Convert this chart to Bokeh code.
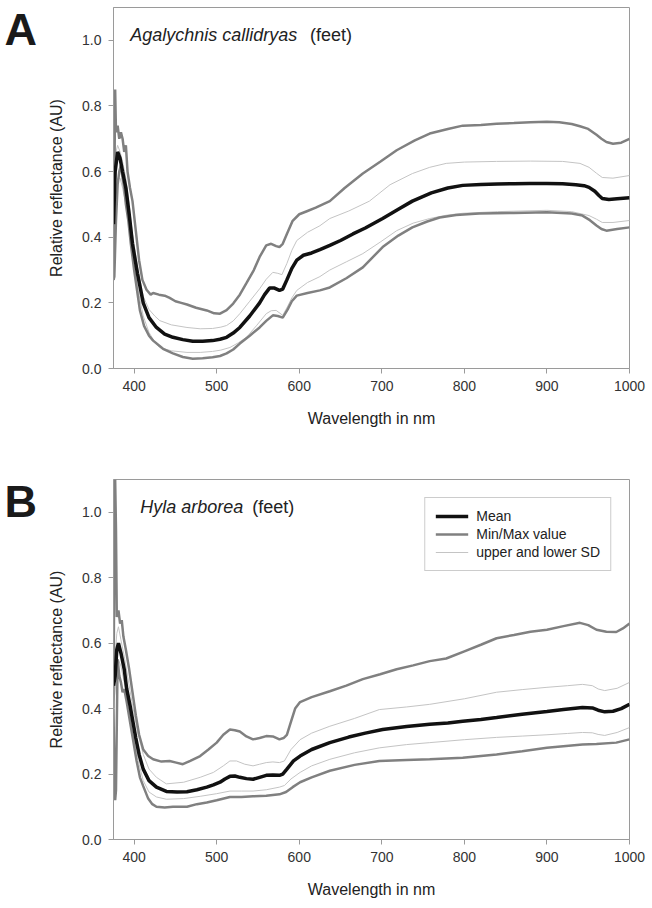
from bokeh.plotting import figure
from bokeh.layouts import column, row
from bokeh.models import PrintfTickFormatter, FixedTicker, Legend, Label
from bokeh.core.properties import value
from bokeh.embed import file_html
from bokeh.resources import INLINE

# ---------------- data: panel A (Agalychnis callidryas) ----------------
a_mean_wl = [375,377,380,383,386,390,394,398,404,411,418,427,437,447,459,471,483,495,504,512,520,528,540,552,558,564,570,576,580,585,591,597,605,615,625,637,650,665,680,701,720,737,760,780,798,820,840,860,879,900,919,935,945,951,958,963,967,975,985,1000]
a_mean = [0.44,0.60,0.66,0.64,0.60,0.55,0.47,0.38,0.29,0.20,0.155,0.125,0.105,0.095,0.088,0.083,0.083,0.085,0.089,0.095,0.108,0.125,0.16,0.20,0.225,0.245,0.245,0.238,0.242,0.27,0.305,0.33,0.345,0.352,0.362,0.375,0.39,0.41,0.428,0.457,0.485,0.51,0.535,0.55,0.558,0.561,0.562,0.563,0.564,0.564,0.563,0.56,0.557,0.552,0.54,0.527,0.518,0.515,0.517,0.52]

a_max_wl = [375,376,377,378,380,382,384,386,388,390,392,395,398,402,406,410,415,420,423,430,437,443,450,457,464,475,488,497,504,512,520,528,536,545,552,560,566,572,576,580,585,592,600,610,620,637,655,677,698,718,740,758,780,798,820,839,860,880,900,915,930,940,950,960,966,972,980,990,1000]
a_max = [0.27,0.55,0.85,0.72,0.74,0.70,0.72,0.70,0.66,0.68,0.60,0.55,0.51,0.42,0.33,0.27,0.24,0.225,0.23,0.225,0.222,0.215,0.205,0.20,0.195,0.185,0.177,0.168,0.167,0.178,0.198,0.225,0.26,0.30,0.34,0.375,0.38,0.373,0.37,0.38,0.41,0.45,0.47,0.48,0.49,0.51,0.55,0.594,0.63,0.665,0.695,0.716,0.73,0.74,0.742,0.746,0.748,0.75,0.752,0.75,0.745,0.738,0.73,0.712,0.70,0.69,0.685,0.688,0.70]

a_usd_wl = [375,378,380,383,386,390,394,398,404,411,418,425,431,445,464,480,495,505,512,520,528,540,552,560,568,574,579,585,591,597,610,625,637,660,685,710,737,758,778,800,839,880,919,940,951,960,967,980,1000]
a_usd = [0.50,0.66,0.68,0.66,0.63,0.58,0.50,0.41,0.31,0.22,0.18,0.16,0.146,0.133,0.125,0.121,0.122,0.126,0.131,0.145,0.167,0.205,0.243,0.272,0.293,0.29,0.286,0.32,0.36,0.39,0.415,0.435,0.457,0.48,0.51,0.56,0.594,0.613,0.625,0.629,0.631,0.632,0.631,0.625,0.613,0.595,0.582,0.58,0.588]

a_lsd_wl = [375,378,380,383,386,390,394,398,404,411,418,425,431,445,464,480,495,505,516,526,536,548,560,566,572,580,586,591,597,610,625,637,657,677,698,718,738,758,778,798,840,900,930,951,960,967,980,1000]
a_lsd = [0.38,0.52,0.58,0.58,0.55,0.50,0.43,0.35,0.25,0.16,0.11,0.08,0.064,0.054,0.049,0.049,0.052,0.056,0.064,0.078,0.095,0.13,0.167,0.176,0.177,0.162,0.19,0.215,0.238,0.262,0.28,0.30,0.325,0.35,0.385,0.42,0.443,0.457,0.467,0.473,0.478,0.482,0.478,0.466,0.455,0.445,0.445,0.451]

a_min_wl = [375,376,378,380,382,384,386,388,390,393,396,400,404,407,412,418,423,435,447,459,471,483,495,504,512,520,528,540,552,560,568,574,580,586,591,597,610,625,637,657,677,701,720,737,755,770,790,818,860,900,930,943,952,960,966,972,985,1000]
a_min = [0.27,0.28,0.45,0.56,0.60,0.62,0.58,0.55,0.50,0.45,0.38,0.30,0.23,0.177,0.13,0.10,0.085,0.06,0.046,0.035,0.03,0.031,0.034,0.038,0.046,0.058,0.076,0.10,0.125,0.145,0.162,0.16,0.155,0.18,0.205,0.222,0.23,0.238,0.247,0.275,0.308,0.37,0.405,0.43,0.448,0.46,0.468,0.472,0.474,0.476,0.472,0.466,0.452,0.436,0.425,0.42,0.425,0.43]

# ---------------- data: panel B (Hyla arborea) ----------------
b_mean_wl = [375,377,379,381,384,388,391,395,398,402,406,411,418,427,439,452,464,476,488,496,504,510,516,522,528,536,544,552,560,568,576,580,585,593,601,615,637,660,680,701,730,758,780,798,820,839,870,900,920,943,955,962,970,980,990,1000]
b_mean = [0.47,0.50,0.58,0.60,0.57,0.52,0.46,0.41,0.367,0.31,0.26,0.215,0.18,0.16,0.147,0.145,0.146,0.152,0.16,0.167,0.175,0.185,0.193,0.194,0.19,0.186,0.184,0.19,0.196,0.197,0.196,0.2,0.215,0.24,0.255,0.275,0.296,0.313,0.325,0.336,0.345,0.352,0.356,0.361,0.367,0.373,0.383,0.391,0.397,0.403,0.402,0.395,0.39,0.392,0.40,0.413]

b_max_wl = [375,376,377,378,379,381,383,385,387,390,394,398,402,406,411,417,423,433,443,451,459,468,480,490,500,508,516,522,528,536,544,552,560,568,576,581,585,590,595,601,615,637,657,677,698,718,738,758,778,800,820,839,860,880,900,920,940,950,960,972,984,992,1000]
b_max = [0.40,0.90,1.10,0.95,0.68,0.70,0.66,0.67,0.62,0.58,0.52,0.45,0.38,0.32,0.275,0.255,0.245,0.238,0.24,0.235,0.23,0.24,0.255,0.275,0.296,0.32,0.336,0.334,0.33,0.315,0.306,0.31,0.316,0.315,0.306,0.31,0.32,0.36,0.40,0.42,0.435,0.453,0.47,0.49,0.505,0.52,0.532,0.545,0.553,0.575,0.595,0.615,0.625,0.635,0.641,0.652,0.662,0.655,0.641,0.635,0.634,0.645,0.66]

b_usd_wl = [375,377,379,381,384,388,392,398,404,411,418,427,439,460,480,496,508,516,524,534,544,552,560,568,576,582,590,601,615,637,667,697,730,758,800,839,870,900,925,943,955,962,970,985,1000]
b_usd = [0.52,0.56,0.63,0.65,0.61,0.56,0.50,0.41,0.33,0.26,0.215,0.19,0.17,0.175,0.19,0.205,0.225,0.24,0.24,0.23,0.225,0.23,0.235,0.237,0.235,0.24,0.275,0.305,0.325,0.346,0.37,0.397,0.405,0.413,0.43,0.45,0.458,0.465,0.47,0.474,0.47,0.46,0.455,0.462,0.48]

b_lsd_wl = [375,377,379,381,384,388,392,398,404,411,418,427,439,460,480,500,516,530,544,560,576,582,590,601,615,637,667,697,730,758,800,839,870,900,925,943,955,962,970,985,1000]
b_lsd = [0.42,0.45,0.52,0.55,0.53,0.48,0.43,0.33,0.25,0.18,0.145,0.13,0.123,0.125,0.132,0.14,0.148,0.148,0.148,0.152,0.16,0.165,0.185,0.205,0.225,0.245,0.265,0.28,0.29,0.296,0.305,0.312,0.316,0.32,0.324,0.327,0.326,0.321,0.318,0.327,0.342]

b_min_wl = [375,376,377,378,379,380,382,384,386,388,391,395,399,403,407,411,417,422,427,437,447,455,464,476,488,500,516,530,544,560,576,584,592,601,615,637,667,697,730,758,798,839,870,900,943,960,984,1000]
b_min = [0.40,0.20,0.12,0.15,0.35,0.55,0.50,0.48,0.45,0.46,0.42,0.36,0.30,0.24,0.19,0.163,0.125,0.108,0.10,0.098,0.10,0.10,0.10,0.108,0.113,0.12,0.13,0.13,0.132,0.134,0.138,0.145,0.16,0.175,0.19,0.21,0.228,0.24,0.243,0.245,0.25,0.26,0.27,0.28,0.29,0.292,0.296,0.306]

x_ticks = [400, 500, 600, 700, 800, 900, 1000]
y_ticks = [0.0, 0.2, 0.4, 0.6, 0.8, 1.0]
legend_labels = ["Mean", "Min/Max value", "upper and lower SD"]
panel_letters = ["A", "B"]

FONT = "Liberation Sans"
MEAN_C, MM_C, SD_C = "#111111", "#808080", "#c4c4c4"
AXIS_C = "#9a9a9a"
LETTER_W = 45
HA, HB = 440, 460


def make_panel(height, top, bottom, series, species, species_x, feet_x, with_legend):
    p = figure(width=652 - LETTER_W, height=height, x_range=(375, 1000), y_range=(0, 1.1),
               output_backend="svg", toolbar_location=None,
               min_border_left=113 - LETTER_W, min_border_right=23,
               min_border_top=top, min_border_bottom=bottom)
    p.grid.visible = False
    p.outline_line_color = AXIS_C
    p.background_fill_color = "white"
    p.border_fill_color = "white"

    (mean_wl, mean), (max_wl, mx), (min_wl, mn), (usd_wl, usd), (lsd_wl, lsd) = series
    r_sd = p.line(usd_wl, usd, line_color=SD_C, line_width=1)
    p.line(lsd_wl, lsd, line_color=SD_C, line_width=1)
    r_mm = p.line(max_wl, mx, line_color=MM_C, line_width=2.5)
    p.line(min_wl, mn, line_color=MM_C, line_width=2.5)
    r_mean = p.line(mean_wl, mean, line_color=MEAN_C, line_width=3.5)

    for ax in (p.xaxis[0], p.yaxis[0]):
        ax.axis_line_color = AXIS_C
        ax.major_tick_line_color = AXIS_C
        ax.major_tick_out = 5
        ax.major_tick_in = 0
        ax.minor_tick_line_color = None
        ax.major_label_text_font = FONT
        ax.major_label_text_font_size = "14px"
        ax.major_label_text_color = "#333333"
        ax.axis_label_text_font = FONT
        ax.axis_label_text_font_size = "16px"
        ax.axis_label_text_font_style = "normal"
        ax.axis_label_text_color = "#222222"
        ax.major_label_standoff = 7

    p.xaxis.ticker = FixedTicker(ticks=x_ticks)
    p.yaxis.ticker = FixedTicker(ticks=y_ticks)
    p.yaxis.formatter = PrintfTickFormatter(format="%.1f")
    p.xaxis.axis_label = "Wavelength in nm"
    p.yaxis.axis_label = "Relative reflectance (AU)"
    p.xaxis.axis_label_standoff = 16
    p.yaxis.axis_label_standoff = 14

    p.add_layout(Label(x=species_x, y=1.016, text=species, text_font=FONT, text_font_size="18px",
                       text_font_style="italic", text_baseline="middle", text_color="#222222"))
    p.add_layout(Label(x=feet_x, y=1.016, text="(feet)", text_font=FONT, text_font_size="18px",
                       text_baseline="middle", text_color="#222222"))

    if with_legend:
        leg = Legend(items=[(legend_labels[0], [r_mean]), (legend_labels[1], [r_mm]),
                            (legend_labels[2], [r_sd])],
                     location="top_right")
        leg.margin = 18
        leg.padding = 10
        leg.spacing = 2
        leg.glyph_width = 33
        leg.glyph_height = 16
        leg.label_height = 16
        leg.label_standoff = 8
        leg.label_text_font = FONT
        leg.label_text_font_size = "14px"
        leg.label_text_color = "#222222"
        leg.border_line_color = AXIS_C
        leg.background_fill_alpha = 1
        p.add_layout(leg, "center")
    return p


pA = make_panel(HA, 7, 72,
                [(a_mean_wl, a_mean), (a_max_wl, a_max), (a_min_wl, a_min),
                 (a_usd_wl, a_usd), (a_lsd_wl, a_lsd)],
                "Agalychnis callidryas", 395.2, 613.0, False)
pB = make_panel(HB, 39, 60,
                [(b_mean_wl, b_mean), (b_max_wl, b_max), (b_min_wl, b_min),
                 (b_usd_wl, b_usd), (b_lsd_wl, b_lsd)],
                "Hyla arborea", 407.3, 543.0, True)

# left strip holding the panel letters (pixel coordinates, y from top)
H = HA + HB
lf = figure(width=LETTER_W, height=H, x_range=(0, LETTER_W), y_range=(H, 0),
            output_backend="svg", toolbar_location=None,
            min_border_left=0, min_border_right=0, min_border_top=0, min_border_bottom=0)
lf.axis.visible = False
lf.grid.visible = False
lf.outline_line_color = None
lf.text(x=[4, 4], y=[29, 501], text=panel_letters, text_font=value(FONT),
        text_font_size="45px", text_font_style="bold", text_baseline="middle",
        text_align="left", text_color="#1a1a1a")

layout = row(lf, column(pA, pB, spacing=0), spacing=0)
open("out.html", "w").write(file_html(layout, INLINE))
